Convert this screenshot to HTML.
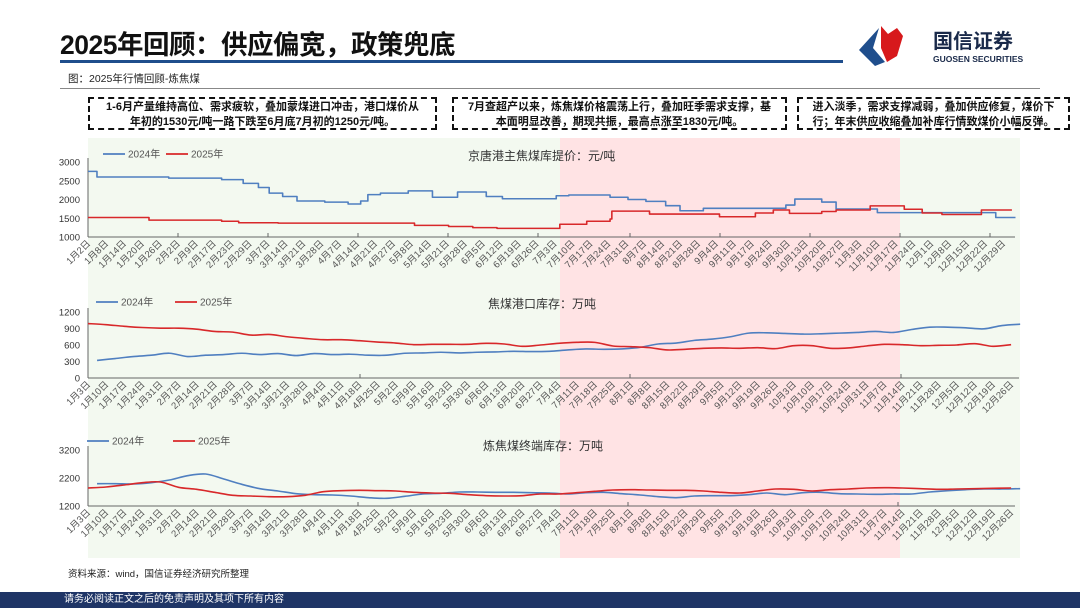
<!DOCTYPE html>
<html><head><meta charset="utf-8">
<style>
body{margin:0;width:1080px;height:608px;overflow:hidden;background:#fff;font-family:"Liberation Sans","Noto Sans CJK SC",sans-serif;}
svg text{font-family:"Liberation Sans","Noto Sans CJK SC",sans-serif;}
.box{position:absolute;border:2px dashed #111;font-size:11px;font-weight:bold;line-height:15px;text-align:center;color:#111;box-sizing:border-box;padding-top:1px}
</style></head><body>
<div style="position:absolute;left:60px;top:23px;font-size:26.5px;font-weight:bold;color:#111;letter-spacing:-0.5px">2025年回顾：供应偏宽，政策兜底</div>
<div style="position:absolute;left:60px;top:60px;width:783px;height:3px;background:#1f4e8c"></div>
<svg style="position:absolute;left:855px;top:22px" width="180" height="46">
<polygon points="24,6 4,28 20,44 30,40 18,26" fill="#1f4e8c"/>
<polygon points="26,4 33,12 42,6 48,14 42,34 32,40 26,26" fill="#d7191c"/>
<text x="78" y="26" font-size="20" font-weight="bold" fill="#1a2a4a">国信证券</text>
<text x="78" y="40" font-size="8.5" font-weight="bold" fill="#1a2a4a">GUOSEN SECURITIES</text>
</svg>
<div style="position:absolute;left:68px;top:71px;font-size:10.5px;color:#222">图：2025年行情回顾-炼焦煤</div>
<div style="position:absolute;left:60px;top:88px;width:980px;height:1px;background:#888"></div>
<div class="box" style="left:88px;top:97px;width:349px;height:33px">1-6月产量维持高位、需求疲软，叠加蒙煤进口冲击，港口煤价从<br>年初的1530元/吨一路下跌至6月底7月初的1250元/吨。</div>
<div class="box" style="left:452px;top:97px;width:335px;height:33px">7月查超产以来，炼焦煤价格震荡上行，叠加旺季需求支撑，基<br>本面明显改善，期现共振，最高点涨至1830元/吨。</div>
<div class="box" style="left:797px;top:97px;width:273px;height:33px">进入淡季，需求支撑减弱，叠加供应修复，煤价下<br>行；年末供应收缩叠加补库行情致煤价小幅反弹。</div>
<svg id="ch" style="position:absolute;left:0;top:0" width="1080" height="608"></svg>
<div style="position:absolute;left:68px;top:566px;font-size:9.5px;color:#222">资料来源：wind，国信证券经济研究所整理</div>
<div style="position:absolute;left:0;top:592px;width:1080px;height:16px;background:#1f3566;color:#fff;font-size:10px;line-height:16px;padding-left:64px;box-sizing:border-box">请务必阅读正文之后的免责声明及其项下所有内容</div>
<script>
// Chart 1: price (step breakpoints: category index, value)
const c1Labels=["1月2日","1月8日","1月14日","1月20日","1月26日","2月2日","2月9日","2月17日","2月23日","2月29日","3月7日","3月14日","3月21日","3月28日","4月7日","4月14日","4月21日","4月27日","5月8日","5月14日","5月21日","5月28日","6月5日","6月12日","6月19日","6月26日","7月3日","7月10日","7月17日","7月24日","7月31日","8月7日","8月14日","8月21日","8月28日","9月4日","9月11日","9月17日","9月24日","9月30日","10月13日","10月20日","10月27日","11月3日","11月10日","11月17日","11月24日","12月1日","12月8日","12月15日","12月22日","12月29日"];
const c1Ticks=[1000,1500,2000,2500,3000];
const p24Idx=[0,0.5,4.5,7.45,8.65,9.5,10.1,10.85,11.65,13.2,14.5,15.2,15.6,16.3,17.85,19.2,20.6,22.2,23.1,26.1,26.8,29.1,30.1,31.1,32.2,33,34.3,38.9,39.4,40.9,41.7,44,50.6,51.7];
const p24Val=[2750,2600,2570,2530,2430,2320,2170,2080,1960,1930,1880,1960,2130,2170,2230,2060,2200,2080,2020,2100,2120,2060,2000,1950,1835,1700,1765,1853,2013,1933,1747,1650,1520,1520];
const p25Idx=[0,3.4,7.45,8.4,10.6,18.2,20.1,21.45,22.8,26.3,27.8,29.1,29.2,31.3,35.2,37.2,38.2,39.1,40.9,41.7,43.6,45.5,46.5,47.6,49.8,51.5];
const p25Val=[1520,1450,1420,1380,1370,1310,1280,1250,1230,1340,1420,1480,1690,1613,1540,1640,1720,1630,1680,1720,1830,1740,1640,1600,1720,1720];
// Chart 2: port inventory (weekly)
const wkLabels=["1月3日","1月10日","1月17日","1月24日","1月31日","2月7日","2月14日","2月21日","2月28日","3月7日","3月14日","3月21日","3月28日","4月4日","4月11日","4月18日","4月25日","5月2日","5月9日","5月16日","5月23日","5月30日","6月6日","6月13日","6月20日","6月27日","7月4日","7月11日","7月18日","7月25日","8月1日","8月8日","8月15日","8月22日","8月29日","9月5日","9月12日","9月19日","9月26日","10月3日","10月10日","10月17日","10月24日","10月31日","11月7日","11月14日","11月21日","11月28日","12月5日","12月12日","12月19日","12月26日"];
const c2Ticks=[0,300,600,900,1200];
const port24=[320,354,390,414,450,390,414,426,450,426,444,408,444,426,432,414,414,450,456,468,456,468,474,486,480,486,510,528,522,528,558,618,636,684,708,750,816,822,810,798,804,816,828,846,828,882,924,924,912,894,954,978];
const port25=[990,970,940,918,906,906,888,846,834,780,792,750,720,696,696,678,654,636,606,612,612,612,630,618,576,600,630,648,648,582,570,552,510,522,540,546,540,552,534,588,588,540,546,582,612,606,588,594,600,624,576,606];
// Chart 3: terminal inventory (weekly)
const c3Ticks=[1200,2200,3200];
const term24=[1998,1998,1986,2033,2129,2283,2343,2164,1974,1819,1736,1640,1605,1593,1557,1498,1474,1545,1629,1652,1700,1700,1688,1688,1676,1664,1629,1676,1688,1640,1593,1533,1498,1557,1569,1569,1605,1664,1605,1676,1688,1640,1629,1617,1629,1629,1700,1748,1783,1807,1807,1819];
const term25=[1843,1879,1950,2033,2057,1867,1795,1688,1581,1557,1533,1533,1581,1712,1748,1760,1748,1736,1688,1664,1652,1605,1569,1557,1569,1629,1629,1676,1724,1771,1783,1771,1760,1760,1736,1688,1664,1736,1807,1795,1736,1783,1807,1843,1855,1843,1819,1795,1807,1819,1831,1843];

const NS="http://www.w3.org/2000/svg";
const svg=document.getElementById('ch');
function mk(tag,attrs,parent){const e=document.createElementNS(NS,tag);for(const k in attrs)e.setAttribute(k,attrs[k]);(parent||svg).appendChild(e);return e;}
const BLUE="#4f7fc0",RED="#d8282a";
let bg=mk('rect',{x:88,y:138,width:932,height:420,fill:"#f3f9f0"});


let pk=mk('rect',{x:560,y:138,width:340,height:420,fill:"#ffe3e4"});



function smooth(pts){
  let d='M'+pts[0][0]+' '+pts[0][1];
  for(let i=0;i<pts.length-1;i++){
    const p0=pts[i-1]||pts[i],p1=pts[i],p2=pts[i+1],p3=pts[i+2]||p2;
    const c1x=p1[0]+(p2[0]-p0[0])/6,c1y=p1[1]+(p2[1]-p0[1])/6;
    const c2x=p2[0]-(p3[0]-p1[0])/6,c2y=p2[1]-(p3[1]-p1[1])/6;
    d+=` C${c1x} ${c1y} ${c2x} ${c2y} ${p2[0]} ${p2[1]}`;
  }
  return d;
}
function panel(cfg){
  const g=mk('g',{});
  
  
  const x0=88,x1=cfg.xEnd;
  const sx=i=>x0+i*cfg.step;
  const sy=v=>cfg.yBot-(v-cfg.min)/(cfg.max-cfg.min)*(cfg.yBot-cfg.yTop);
  mk('line',{x1:x0,y1:cfg.yTop-4,x2:x0,y2:cfg.yBot,stroke:"#666","stroke-width":1},g);
  mk('line',{x1:x0,y1:cfg.yBot,x2:x1,y2:cfg.yBot,stroke:"#666","stroke-width":1},g);
  cfg.ticks.forEach(v=>{
    const t=mk('text',{x:80,y:sy(v)+3.5,"font-size":9.5,"text-anchor":"end",fill:"#333"},g);t.textContent=v;
    
    
  });
  cfg.xTicks.forEach(x=>mk('line',{x1:x,y1:cfg.yBot-4,x2:x,y2:cfg.yBot,stroke:"#666"},g));
  cfg.labels.forEach((l,i)=>{
    const x=sx(i)+3,y=cfg.yBot+7;
    const t=mk('text',{x:x,y:y,"font-size":9.5,"text-anchor":"end",fill:"#555",transform:`rotate(-45 ${x} ${y})`},g);t.textContent=l;
    
    
  });
  cfg.series.forEach(s=>{
    let d;
    if(s.idx){d='';s.idx.forEach((ix,k)=>{const X=sx(ix),Y=sy(s.val[k]);if(k===0)d='M'+X+' '+Y;else d+=' L'+X+' '+sy(s.val[k-1])+' L'+X+' '+Y;});}
    else{d=smooth(s.val.map((v,i)=>[sx(i+(s.off||0)),sy(v)]));}
    const p=mk('path',{d:d,fill:"none",stroke:s.c,"stroke-width":1.6,"stroke-linejoin":"round"},g);
    
    
  });
  const L=cfg.leg;
  [[L[0],BLUE,"2024年"],[L[1],RED,"2025年"]].forEach(([lx,c,t],k)=>{
    mk('line',{x1:lx,y1:L[2],x2:lx+22,y2:L[2],stroke:c,"stroke-width":1.8},g);
    const tx=mk('text',{x:lx+25,y:L[2]+3.5,"font-size":10,fill:"#555"},g);tx.textContent=t;
    
    
  });
  const tt=mk('text',{x:cfg.title[1],y:cfg.title[2],"font-size":12,fill:"#333"},g);tt.textContent=cfg.title[0];
  
  
}
panel({name:"price-chart",xEnd:1015,step:17.94,yTop:162,yBot:237,min:1000,max:3000,ticks:c1Ticks,labels:c1Labels,
  xTicks:[178,268,358,448,538,630,720,810,900,990],
  series:[{idx:p24Idx,val:p24Val,c:BLUE,n:"line-2024"},{idx:p25Idx,val:p25Val,c:RED,n:"line-2025"}],
  leg:[103,166,154],title:["京唐港主焦煤库提价：元/吨",468,160]});
panel({name:"port-inventory-chart",xEnd:1019,step:18.1,yTop:312,yBot:378,min:0,max:1200,ticks:c2Ticks,labels:wkLabels,
  xTicks:[360,630,901],
  series:[{val:port24,c:BLUE,n:"line-2024",off:0.5},{val:port25,c:RED,n:"line-2025"}],
  leg:[96,175,302],title:["焦煤港口库存：万吨",488,308]});
panel({name:"terminal-inventory-chart",xEnd:1015,step:18.1,yTop:450,yBot:506,min:1200,max:3200,ticks:c3Ticks,labels:wkLabels,
  xTicks:[358,628,898],
  series:[{val:term24,c:BLUE,n:"line-2024",off:0.5},{val:term25,c:RED,n:"line-2025"}],
  leg:[87,173,441],title:["炼焦煤终端库存：万吨",483,450]});
</script>
</body></html>
